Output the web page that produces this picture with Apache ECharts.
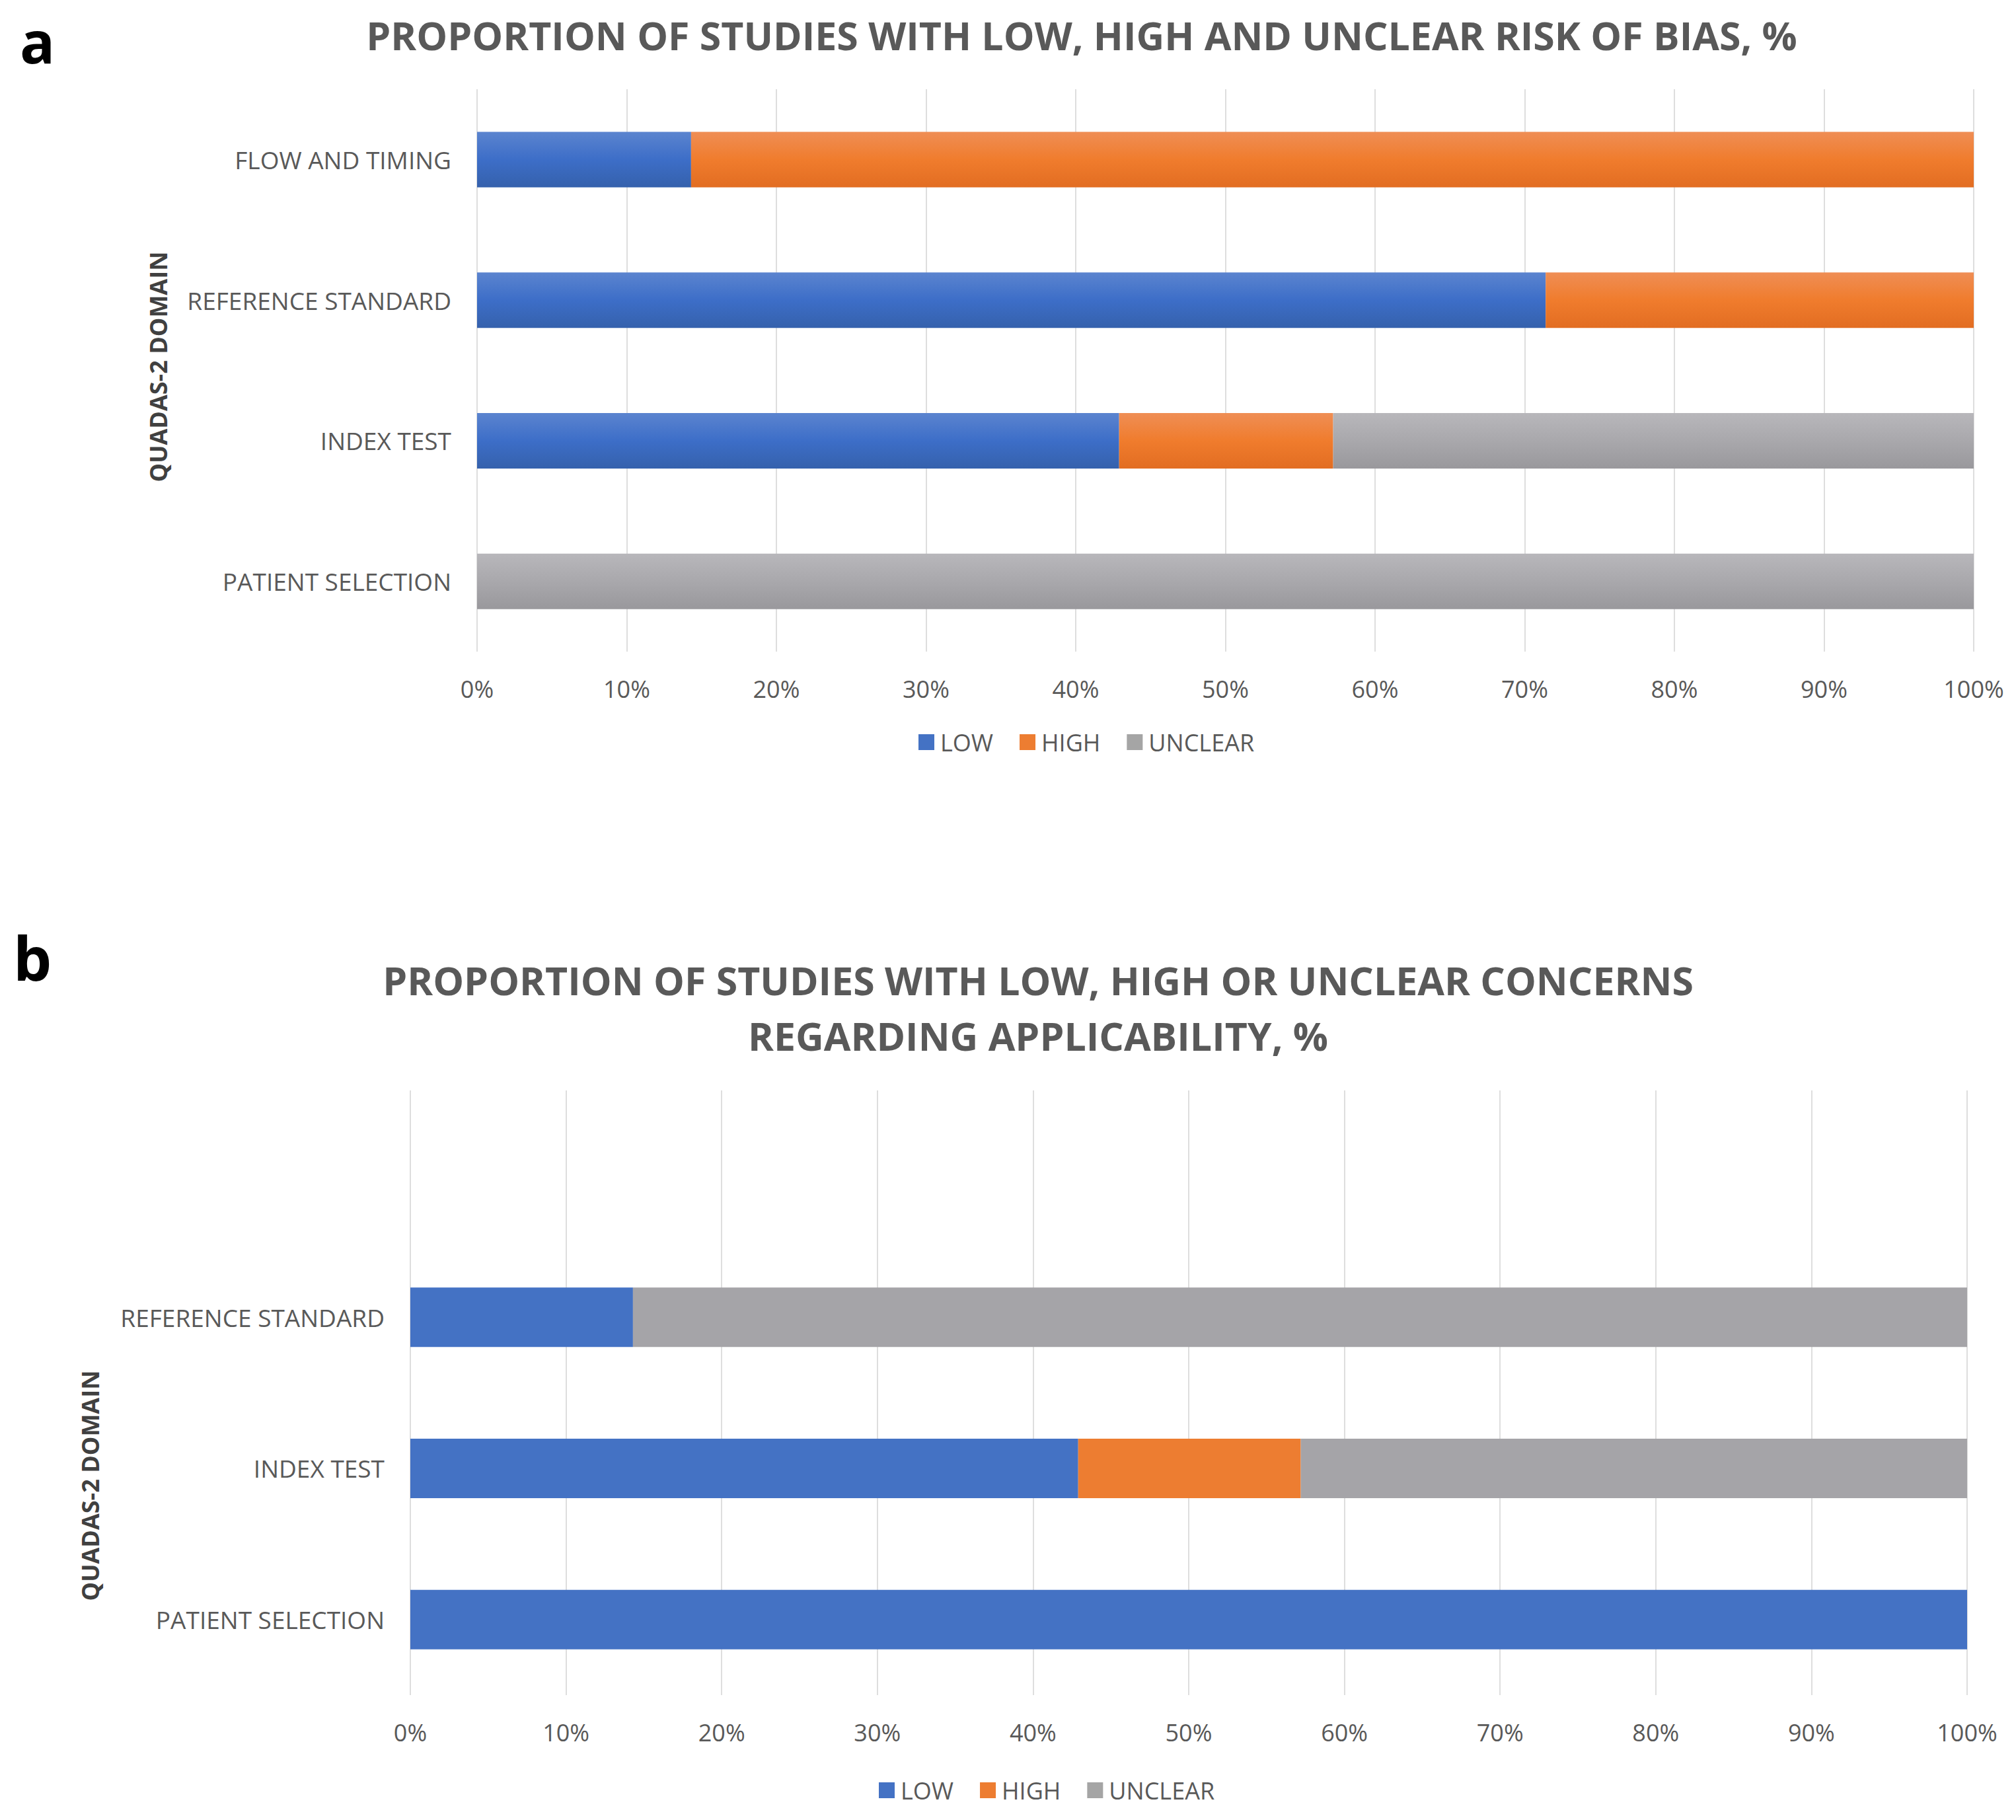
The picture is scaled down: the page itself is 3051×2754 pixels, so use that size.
<!DOCTYPE html>
<html>
<head>
<meta charset="utf-8">
<script src="https://cdn.jsdelivr.net/npm/echarts@6/dist/echarts.min.js"></script>
<style>
html,body{margin:0;padding:0;background:#ffffff;}
#chart{width:3051px;height:2754px;}
</style>
</head>
<body>
<div id="chart"></div>
<script>
// ---- Data ----
var titleA = 'PROPORTION OF STUDIES WITH LOW, HIGH AND UNCLEAR RISK OF BIAS, %';
var titleB = 'PROPORTION OF STUDIES WITH LOW, HIGH OR UNCLEAR CONCERNS\nREGARDING APPLICABILITY, %';
var axisTitle = 'QUADAS-2 DOMAIN';
var seriesNames = ['LOW', 'HIGH', 'UNCLEAR'];

// Panel a (bottom -> top)
var categoriesA = ['PATIENT SELECTION', 'INDEX TEST', 'REFERENCE STANDARD', 'FLOW AND TIMING'];
var lowA     = [0, 42.9, 71.4, 14.3];
var highA    = [0, 14.3, 28.6, 85.7];
var unclearA = [100, 42.8, 0, 0];

// Panel b (bottom -> top, top slot is empty)
var categoriesB = ['PATIENT SELECTION', 'INDEX TEST', 'REFERENCE STANDARD', ''];
var lowB     = [100, 42.9, 14.3, null];
var highB    = [0, 14.3, 0, null];
var unclearB = [0, 42.8, 85.7, null];

// ---- Styles ----
var FONT = 'Open Sans';
var TXT = '#595959';
function grad(c0, c1, c2) {
  return new echarts.graphic.LinearGradient(0, 0, 0, 1, [
    {offset: 0, color: c0}, {offset: 0.5, color: c1}, {offset: 1, color: c2}
  ]);
}
var gradColors = [
  grad('#5b84cf', '#3d6ec8', '#3561ac'),
  grad('#ef8e55', '#f07c2d', '#e26d22'),
  grad('#b8b7bb', '#a9a8ac', '#99989c')
];
var flatColors = ['#4472c4', '#ed7d31', '#a5a5a5'];

var chart = echarts.init(document.getElementById('chart'), null, {renderer: 'svg', width: 3051, height: 2754});

function xAxisCfg(gridIndex) {
  return {
    type: 'value', gridIndex: gridIndex, min: 0, max: 100, interval: 10,
    axisLine: {show: false}, axisTick: {show: false},
    splitLine: {show: true, lineStyle: {color: '#dedede', width: 2}},
    axisLabel: {formatter: function (v) { return v + '%'; }, color: TXT, fontFamily: FONT, fontSize: 36, margin: 38}
  };
}
function yAxisCfg(gridIndex, cats) {
  return {
    type: 'category', gridIndex: gridIndex, data: cats,
    axisLine: {show: false}, axisTick: {show: false},
    axisLabel: {color: TXT, fontFamily: FONT, fontSize: 37, margin: 39}
  };
}
function mkSeries(name, data, idx, stack, colors, barWidth) {
  return {
    name: name, type: 'bar', stack: stack, data: data,
    xAxisIndex: idx, yAxisIndex: idx, barWidth: barWidth,
    itemStyle: {color: colors}, emphasis: {disabled: true}, animation: false
  };
}
var legendItems = seriesNames.map(function (n, i) {
  return {name: n, itemStyle: {color: flatColors[i]}};
});
function legendCfg(left, top) {
  return {data: legendItems, left: left, top: top, icon: 'rect', itemWidth: 24, itemHeight: 24, itemGap: 40,
    textStyle: {color: TXT, fontFamily: FONT, fontSize: 36, padding: [0, 0, 0, 4]}, selectedMode: false};
}

var option = {
  backgroundColor: '#ffffff',
  animation: false,
  grid: [
    {left: 722, right: 64, top: 135, height: 851, containLabel: false},
    {left: 621, right: 74, top: 1650, height: 915, containLabel: false}
  ],
  xAxis: [xAxisCfg(0), xAxisCfg(1)],
  yAxis: [yAxisCfg(0, categoriesA), yAxisCfg(1, categoriesB)],
  legend: [legendCfg(1385, 1100), legendCfg(1325, 2686)],
  series: [
    mkSeries('LOW', lowA, 0, 'a', gradColors[0], 84),
    mkSeries('HIGH', highA, 0, 'a', gradColors[1], 84),
    mkSeries('UNCLEAR', unclearA, 0, 'a', gradColors[2], 84),
    mkSeries('LOW', lowB, 1, 'b', flatColors[0], 90),
    mkSeries('HIGH', highB, 1, 'b', flatColors[1], 90),
    mkSeries('UNCLEAR', unclearB, 1, 'b', '#a5a4a8', 90)
  ],
  graphic: [
    {type: 'text', x: 30, y: 62, style: {text: 'a', font: 'bold 88px "' + FONT + '"', fill: '#000000', align: 'left', verticalAlign: 'middle'}},
    {type: 'text', x: 20, y: 1448, style: {text: 'b', font: 'bold 92px "' + FONT + '"', fill: '#000000', align: 'left', verticalAlign: 'middle'}},
    {type: 'text', x: 1637, y: 53, style: {text: titleA, font: 'bold 59px "' + FONT + '"', fill: TXT, align: 'center', verticalAlign: 'middle'}},
    {type: 'text', x: 1571, y: 1525, style: {text: titleB, font: 'bold 59px "' + FONT + '"', fill: TXT, align: 'center', verticalAlign: 'middle', lineHeight: 84}},
    {type: 'text', x: 239, y: 555, rotation: Math.PI / 2, style: {text: axisTitle, font: 'bold 36px "' + FONT + '"', fill: '#404040', align: 'center', verticalAlign: 'middle'}},
    {type: 'text', x: 136, y: 2248, rotation: Math.PI / 2, style: {text: axisTitle, font: 'bold 36px "' + FONT + '"', fill: '#404040', align: 'center', verticalAlign: 'middle'}}
  ]
};
chart.setOption(option);
</script>
</body>
</html>
